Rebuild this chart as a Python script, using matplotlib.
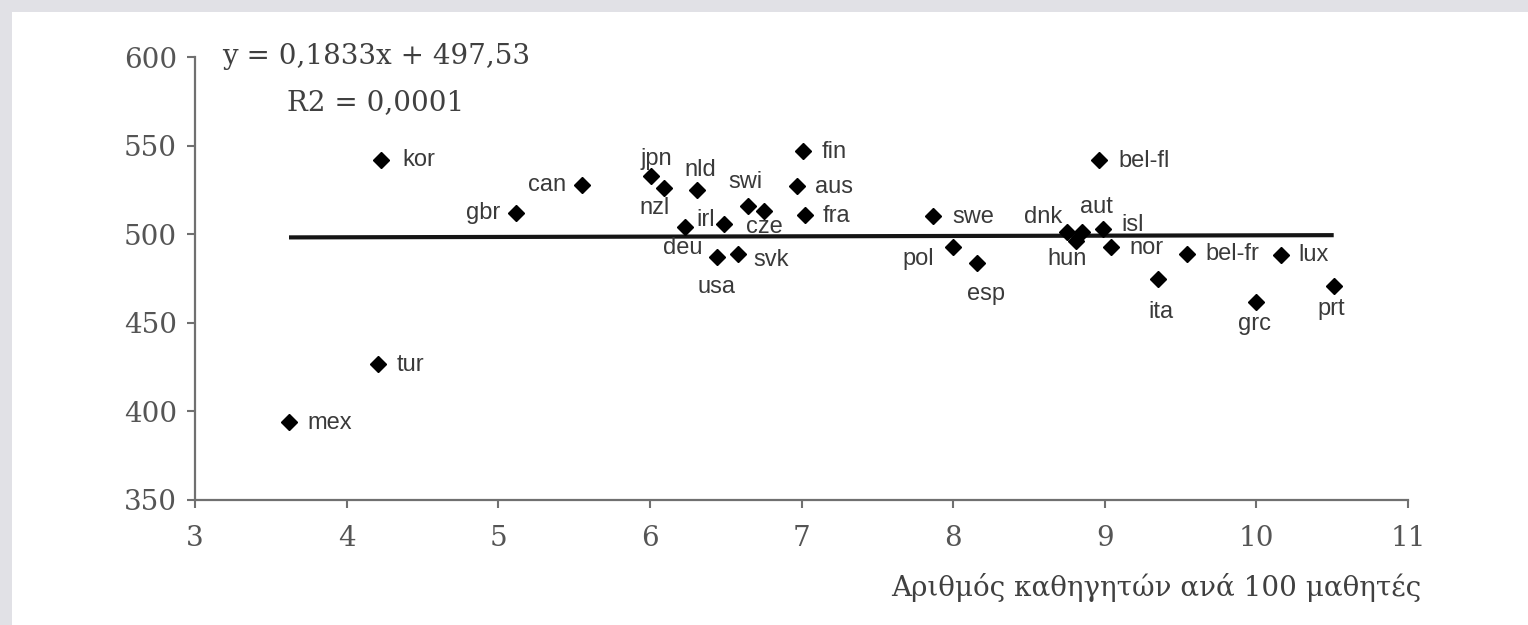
import numpy as np
import matplotlib
matplotlib.use("Agg")
import matplotlib.pyplot as plt
from matplotlib.patches import Rectangle

# Data: teachers per 100 students vs score
countries = ["mex", "tur", "kor", "gbr", "can", "jpn", "nzl", "nld", "deu", "irl",
             "swi", "cze", "usa", "svk", "fin", "aus", "fra", "swe", "pol", "esp",
             "dnk", "hun", "aut", "isl", "nor", "bel-fl", "ita", "bel-fr", "lux",
             "grc", "prt"]
teachers = [3.62, 4.21, 4.23, 5.12, 5.55, 6.01, 6.09, 6.31, 6.23, 6.49,
            6.65, 6.75, 6.44, 6.58, 7.01, 6.97, 7.02, 7.87, 8.00, 8.16,
            8.75, 8.81, 8.85, 8.99, 9.04, 8.96, 9.35, 9.54, 10.16,
            10.00, 10.51]
scores = [394, 427, 542, 512, 528, 533, 526, 525, 504, 506,
          516, 513, 487, 489, 547, 527, 511, 510, 493, 484,
          501, 496, 501, 503, 493, 542, 475, 489, 488,
          462, 471]

# trendline as printed on the chart
slope = 0.1833
intercept = 497.53
eq_text = "y = 0,1833x + 497,53"
r2_text = "R2 = 0,0001"
xlabel = "Αριθμός καθηγητών ανά 100 μαθητές"

# label offsets in pixels (dx, dy) from each marker
offsets = {
    "mex": (41, -1), "tur": (32, -1), "kor": (37, 0), "gbr": (-33, 0),
    "can": (-35, 0), "jpn": (5, 17), "nzl": (-9, -20), "nld": (3, 20),
    "deu": (-2, -21), "irl": (-18, 4), "swi": (-3, 24), "cze": (1, -16),
    "usa": (0, -30), "svk": (33, -6), "fin": (31, -1), "aus": (37, -1),
    "fra": (32, -1), "swe": (40, -1), "pol": (-35, -12), "esp": (9, -31),
    "dnk": (-24, 15), "hun": (-9, -18), "aut": (14, 25), "isl": (29, 4),
    "nor": (36, -1), "bel-fl": (45, -1), "ita": (3, -34), "bel-fr": (46, 0),
    "lux": (33, 0), "grc": (-2, -22), "prt": (-2, -23),
}

serif = "DejaVu Serif"
sans = "Liberation Sans"
axis_gray = "#707070"

fig = plt.figure(figsize=(15.28, 6.25), dpi=100, facecolor="#e1e1e6")
fig.patches.append(Rectangle((12 / 1528, 0), 1, 1 - 12 / 625, transform=fig.transFigure,
                             facecolor="white", edgecolor="none", zorder=-5))

ax = fig.add_axes([195 / 1528, 1 - 500 / 625, 1213 / 1528, 443 / 625])
ax.set_facecolor("none")

x_line = np.array([min(teachers), max(teachers)])
ax.plot(x_line, slope * x_line + intercept, color="#151515", lw=3, zorder=2,
        solid_capstyle="butt")
ax.plot(teachers, scores, linestyle="none", marker="D", ms=8, color="black", zorder=3)

for name, xv, yv in zip(countries, teachers, scores):
    dx, dy = offsets[name]
    ax.annotate(name, (xv, yv), xytext=(dx, dy), textcoords="offset pixels",
                ha="center", va="center", fontsize=17, family=sans, color="#3a3a3a")

ax.set_xlim(3, 11)
ax.set_ylim(350, 600)
ax.set_xticks(range(3, 12))
ax.set_yticks(range(350, 601, 50))
for side in ["top", "right"]:
    ax.spines[side].set_visible(False)
for side in ["left", "bottom"]:
    ax.spines[side].set_color(axis_gray)
    ax.spines[side].set_linewidth(1.6)
ax.tick_params(axis="both", direction="out", length=6, width=1.5, color=axis_gray,
               labelcolor="#555555", labelsize=20)
ax.tick_params(axis="x", pad=12)
ax.tick_params(axis="y", pad=7)
for lab in ax.get_xticklabels() + ax.get_yticklabels():
    lab.set_family(serif)

fig.text(222 / 1528, 1 - 57 / 625, eq_text, ha="left", va="center", fontsize=20,
         family=serif, color="#404040")
fig.text(287 / 1528, 1 - 103 / 625, r2_text, ha="left", va="center", fontsize=20,
         family=serif, color="#404040")
fig.text(1421 / 1528, 1 - 588 / 625, xlabel, ha="right", va="center", fontsize=20,
         family=serif, color="#404040")

fig.savefig("out.png", dpi=100, facecolor=fig.get_facecolor())
